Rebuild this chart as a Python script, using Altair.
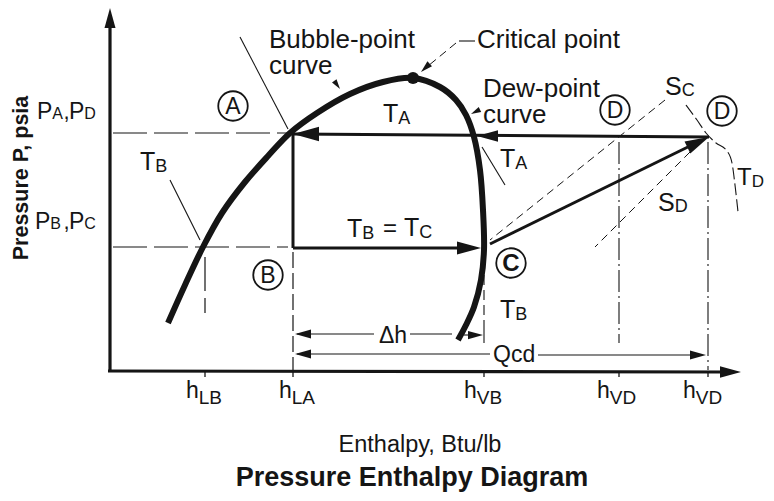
import math
import altair as alt
import pandas as pd

# ---------------- values (page-pixel units) ----------------
# enthalpy tick positions and their subscripts
H_TICKS = [205, 293, 484, 619, 708]
H_SUBS = ["LB", "LA", "VB", "VD", "VD"]
H_LABEL_X = [186, 279, 464, 597, 683]
# pressure levels  P_A = P_D  and  P_B = P_C
P_A = 134
P_B = 247

# saturation dome: bubble-point branch then dew-point branch
BUBBLE_X = [168, 185, 203, 222, 245, 268, 290, 317, 350, 383, 413]
BUBBLE_Y = [323, 285, 247, 213, 182, 156, 133, 113, 94, 82, 78]
DEW_X = [413, 440, 456, 466, 474, 480, 483, 484, 481, 474, 466, 458]
DEW_Y = [78, 87, 100, 115, 137, 170, 210, 250, 280, 307, 325, 340]
CRIT = (413, 78)

# state points
PT_C = (490, 244)
PT_D = (709, 137)

# isotherm T_D (curved dashed line through D)
TD_X = [686, 697, 706, 716, 727, 732, 735, 738]
TD_Y = [105, 120, 133, 143, 151, 163, 185, 212]

# circled state labels
CIRC_LBL = ["A", "B", "C", "D", "D"]
CIRC_X = [233, 268, 511, 615, 722]
CIRC_Y = [106, 275, 263, 110, 111]

FONT = "Liberation Sans, Arial, Helvetica, sans-serif"
INK = "#151515"

W, H = 758, 485
xs = alt.Scale(domain=[8, 8 + W], nice=False, zero=False)
ys = alt.Scale(domain=[8, 8 + H], nice=False, zero=False, reverse=True)
X = lambda f="x": alt.X(f + ":Q", scale=xs, axis=None)
Y = lambda f="y": alt.Y(f + ":Q", scale=ys, axis=None)


def line_layer(segs, width, dash=None, interp="linear"):
    rows = []
    for i, pts in enumerate(segs):
        for j, (x, y) in enumerate(pts):
            rows.append({"id": i, "o": j, "x": x, "y": y})
    kw = dict(color=INK, strokeWidth=width, interpolate=interp, strokeJoin="round")
    if dash:
        kw["strokeDash"] = dash
    return alt.Chart(pd.DataFrame(rows)).mark_line(**kw).encode(
        x=X(), y=Y(), detail="id:N", order="o:Q")


ARROW = "M0,0 L-2,-0.55 L-2,0.55 Z"


def arrow_layer(items):
    rows = []
    for tip, frm, length in items:
        a = math.degrees(math.atan2(tip[1] - frm[1], tip[0] - frm[0])) % 360
        rows.append({"x": tip[0], "y": tip[1], "a": a, "s": length * length})
    return alt.Chart(pd.DataFrame(rows)).mark_point(
        shape=ARROW, filled=True, color=INK, opacity=1, strokeWidth=0).encode(
        x=X(), y=Y(), angle=alt.Angle("a:Q", scale=None), size=alt.Size("s:Q", scale=None))


def text_layer(rows, weight="normal", align="left", baseline="alphabetic", angle=0, font=FONT):
    df = pd.DataFrame(rows, columns=["t", "x", "y", "fs"])
    kw = dict(color=INK, font=font, fontWeight=weight, align=align, baseline=baseline)
    if angle:
        kw["angle"] = angle
    return alt.Chart(df).mark_text(**kw).encode(
        x=X(), y=Y(), text="t:N", size=alt.Size("fs:Q", scale=None))


GW = {"T": 0.611, "P": 0.667, "S": 0.667, "h": 0.556}


def sub_rows(main, sub, x, y, fs, sfs, drop):
    return [(main, x, y, fs), (sub, x + GW[main] * fs, y + drop, sfs)]


layers = []

# ---- axes ----
layers.append(line_layer([[(110, 370), (110, 24)], [(108, 371), (726, 372)]], 3.2))
layers.append(line_layer([[(h, 371), (h, 377)] for h in H_TICKS], 1.3))
layers.append(arrow_layer([((110, 8), (110, 40), 20), ((741, 372), (700, 372), 21)]))

# ---- dashed reference lines ----
layers.append(line_layer([[(113, P_A - 1), (287, P_A - 1)], [(113, P_B), (288, P_B)],
                          [(205, 257), (205, 313)]], 1.2, dash=[34, 7]))
layers.append(line_layer([[(H_TICKS[1], 252), (H_TICKS[1], 370)]], 1.2, dash=[16, 5]))
layers.append(line_layer([[(H_TICKS[2], 275), (H_TICKS[2], 322)]], 1.1, dash=[10, 5]))
layers.append(line_layer([[(H_TICKS[3], 142), (H_TICKS[3], 343)],
                          [(H_TICKS[4], 142), (H_TICKS[4], 370)]], 1.1, dash=[22, 4, 2, 4]))
# isentropes S_C, S_D and leader
layers.append(line_layer([[(665, 100), (PT_C[0], 240)], [(690, 152), (595, 247)],
                          [(456, 43), (428, 66)]], 1.0, dash=[8, 5]))
# T_D isotherm
layers.append(line_layer([list(zip(TD_X, TD_Y))], 1.1, dash=[12, 4], interp="monotone"))

# ---- thin solid lines ----
layers.append(line_layer([
    [(240, 37), (288, 129)],          # T_A left
    [(482, 147), (505, 185)],         # T_A right
    [(170, 180), (200, 240)],         # T_B left
    [(297, 334), (374, 334)], [(410, 334), (452, 334)], [(464, 335), (470, 335)],  # dh
    [(297, 354), (490, 354)], [(538, 355), (694, 355)],                            # Qcd
    [(H_TICKS[2], 322), (H_TICKS[2], 343)],
    [(475, 41), (459, 41)],
], 1.1))

# ---- process lines (medium) ----
layers.append(line_layer([
    [PT_D, (293, P_A)],
    [(293, P_A), (293, P_B + 1)],
    [(293, P_B + 1), (470, P_B + 1)],
    [PT_C, (694, 144)],
], 3.0))

# ---- saturation dome ----
dome = list(zip(BUBBLE_X, BUBBLE_Y)) + list(zip(DEW_X[1:], DEW_Y[1:]))
layers.append(line_layer([dome], 6.0, interp="catmull-rom"))

# ---- arrowheads ----
layers.append(arrow_layer([
    ((293, P_A), (330, P_A), 26),
    ((477, 136), (520, 136), 21),
    ((481, P_B + 1), (440, P_B + 1), 24),
    (PT_D, PT_C, 24),
    ((295, 334), (330, 334), 16), ((483, 335), (450, 335), 15),
    ((295, 354), (330, 354), 16), ((706, 355), (670, 355), 16),
    ((340, 89), (333, 79), 10),
    ((471, 114), (483, 108), 10),
    ((421, 72), (440, 54), 12),
]))

# ---- critical point dot ----
layers.append(alt.Chart(pd.DataFrame([{"x": CRIT[0], "y": CRIT[1]}])).mark_point(
    shape="circle", filled=True, color=INK, opacity=1, size=150).encode(x=X(), y=Y()))

# ---- circled state labels ----
cdf = pd.DataFrame({"t": CIRC_LBL, "x": CIRC_X, "y": CIRC_Y})
layers.append(alt.Chart(cdf).mark_point(shape="circle", filled=False, color=INK, opacity=1,
                                        size=870, strokeWidth=1.8).encode(x=X(), y=Y()))
layers.append(text_layer([(t, x, y + 8, 23) for t, x, y in zip(CIRC_LBL, CIRC_X, CIRC_Y) if t != "C"],
                         align="center"))
layers.append(text_layer([("C", CIRC_X[2], CIRC_Y[2] + 8, 24)], weight="bold", align="center",
                         font="Liberation Sans Narrow, Arial Narrow, Liberation Sans, sans-serif"))

# ---- plain labels ----
layers.append(text_layer([
    ("Bubble-point", 269, 48, 26), ("curve", 269, 74, 26),
    ("Critical point", 477, 48, 26),
    ("Dew-point", 483, 97, 26), ("curve", 483, 123, 26),
    ("\u0394h", 379, 343, 23), ("Qcd", 493, 362, 23),
    (",", 63.5, 119, 22), (",", 63.5, 229, 22), ("=", 383, 236, 24),
]))

# ---- subscripted labels ----
rows = []
rows += sub_rows("T", "A", 383, 122, 25, 18, 2)
rows += sub_rows("T", "A", 500, 167, 25, 18, 2)
rows += sub_rows("T", "B", 140, 170, 25, 18, 2)
rows += sub_rows("T", "B", 500, 318, 25, 18, 2)
rows += sub_rows("T", "D", 737, 185, 24, 17, 2)
rows += sub_rows("S", "C", 665, 95, 25, 18, 1)
rows += sub_rows("S", "D", 658, 211, 25, 18, 1)
rows += sub_rows("T", "B", 347, 237, 25, 18, 2)
rows += sub_rows("T", "C", 404, 236, 25, 18, 2)
rows += sub_rows("P", "A", 37, 119, 23, 16, 0)
rows += sub_rows("P", "D", 69, 119, 23, 16, 0)
rows += sub_rows("P", "B", 35, 229, 23, 16, 0)
rows += sub_rows("P", "C", 69, 229, 23, 16, 0)
for hx, s in zip(H_LABEL_X, H_SUBS):
    rows += sub_rows("h", s, hx, 398, 23, 19, 6)
layers.append(text_layer(rows))

# ---- axis titles and chart title ----
layers.append(text_layer([("Enthalpy, Btu/lb", 420, 452, 23.5)], align="center"))
layers.append(text_layer([("Pressure Enthalpy Diagram", 412, 486, 27)], weight="bold", align="center"))
layers.append(text_layer([("Pressure P, psia", 28, 178, 21.5)], weight="bold", align="center", angle=270))

chart = alt.layer(*layers).properties(
    width=W, height=H, padding=0,
    autosize=alt.AutoSizeParams(type="none"),
    background="white",
).configure_view(stroke=None)

chart.save("out.html", embed_options={"renderer": "svg", "actions": False})
